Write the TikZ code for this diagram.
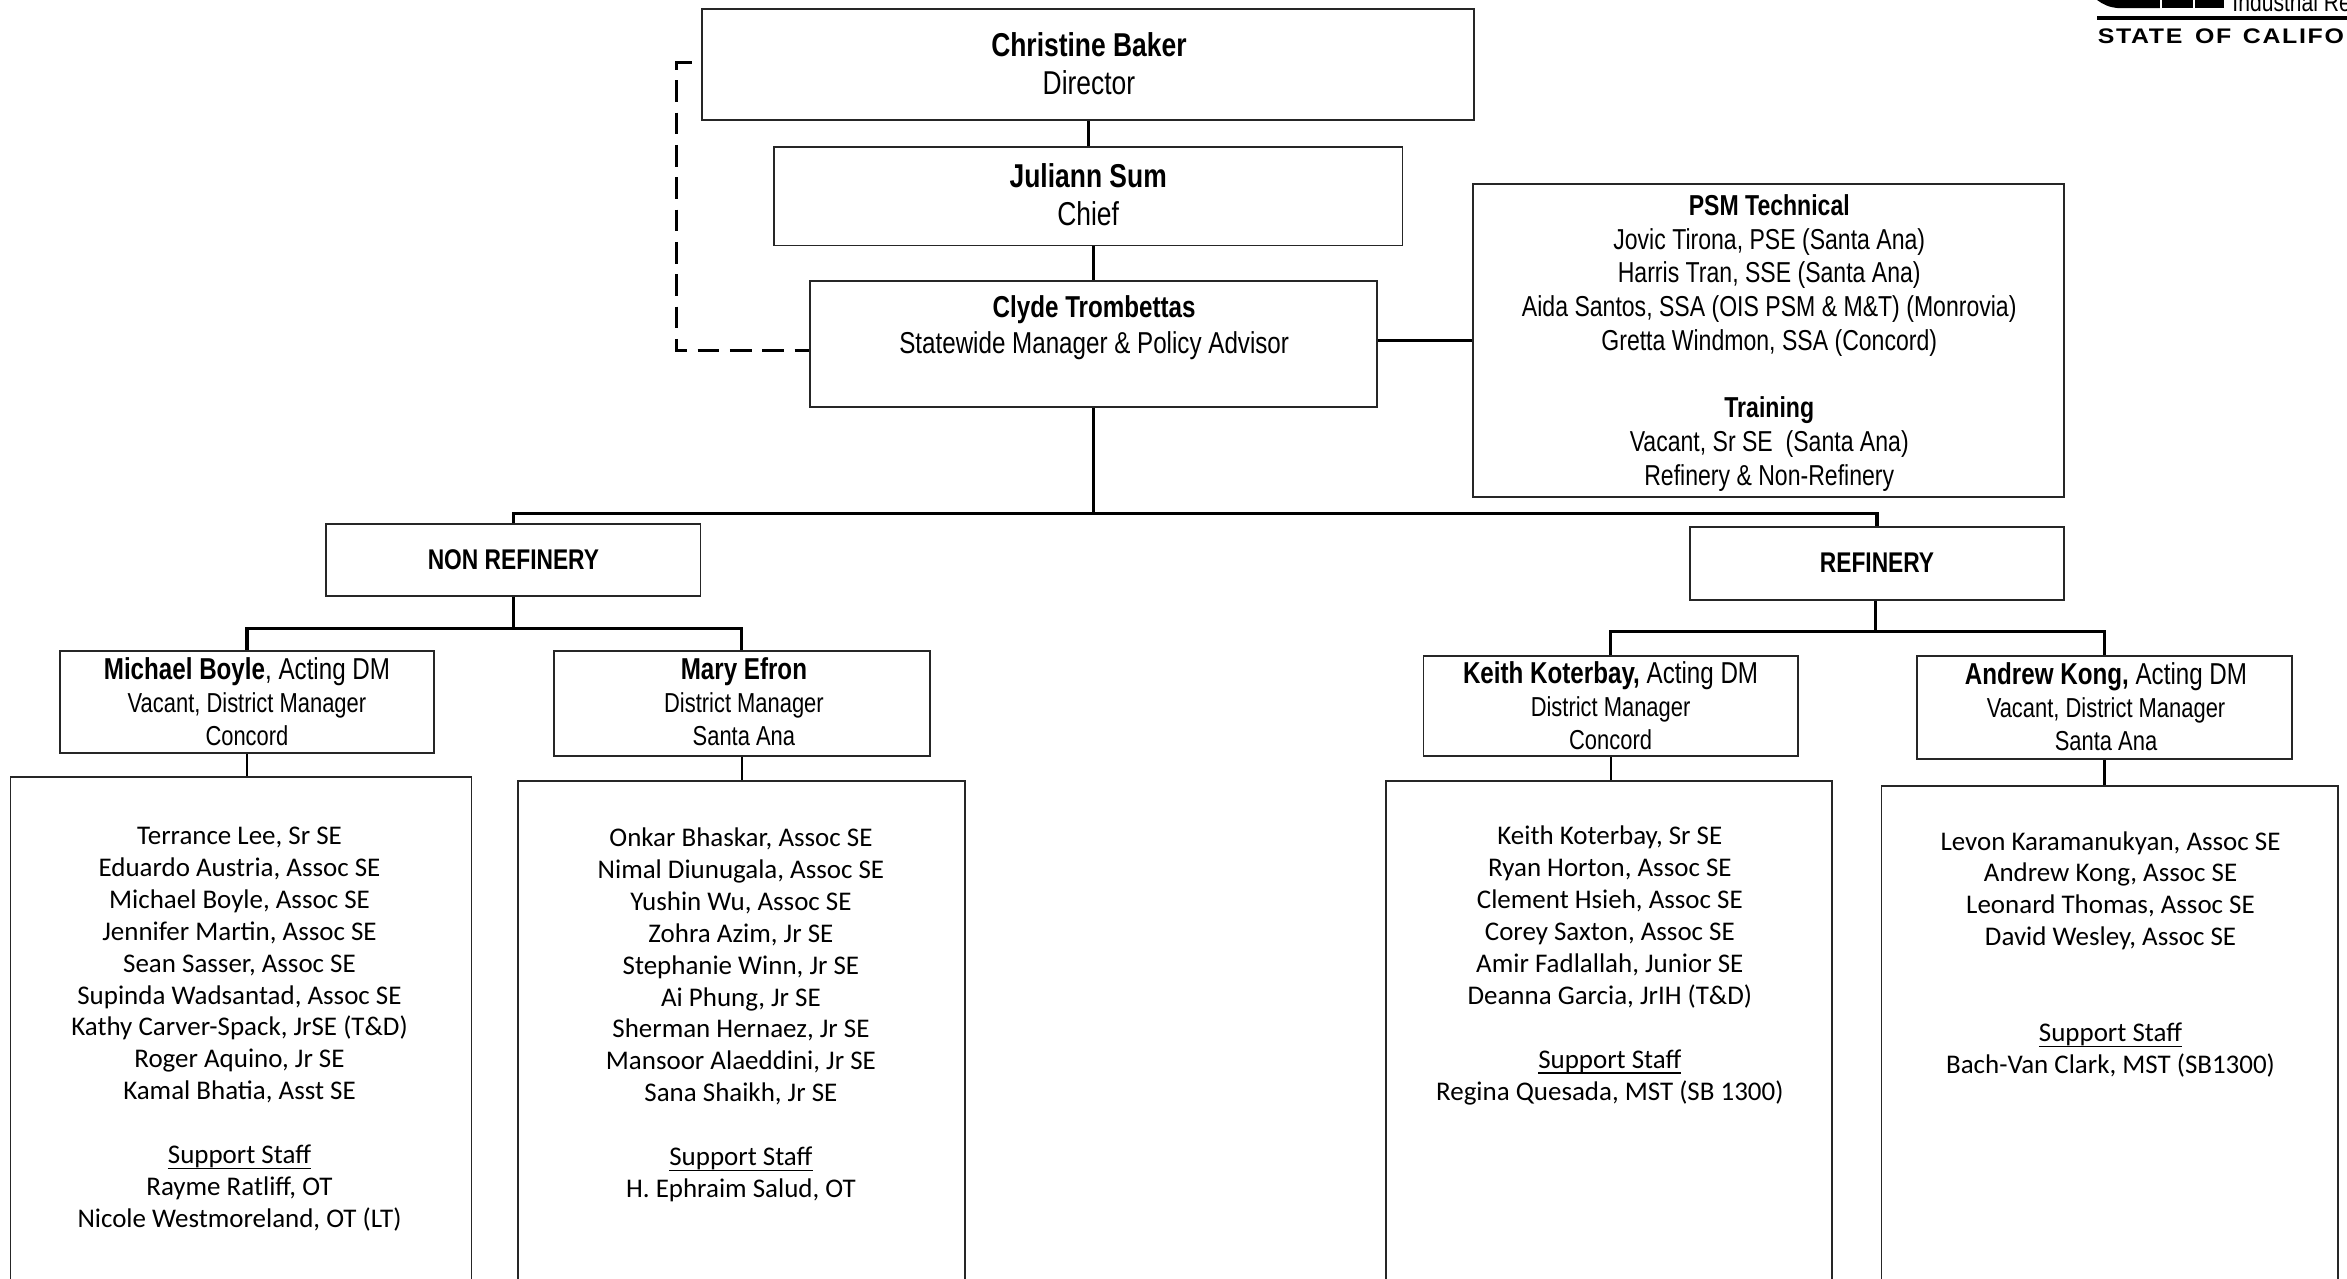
\documentclass[tikz,border=0pt]{standalone}
\usepackage{fontspec}
\setmainfont{Carlito}
\newfontfamily\nar[FakeStretch=0.8]{Liberation Sans}
\newfontfamily\wid[FakeStretch=1.18,LetterSpace=8]{Liberation Sans}
\newcommand\uu{0.014968cm}
\newcommand\ustaff{\underline{\smash{Support Staff}}}
\tikzset{
  wh/.style 2 args={minimum width=#1*\uu,minimum height=#2*\uu},
  box/.style={draw=black!85,line width=0.55pt,inner sep=0pt,fill=none},
  lnk/.style={draw=black,line width=0.75pt},
  thick lnk/.style={draw=black,line width=1pt},
  thin lnk/.style={draw=black,line width=0.6pt},
  dash lnk/.style={draw=black,line width=0.8pt,dash pattern=on 6.2pt off 3pt},
  top text/.style={align=center,inner sep=0pt,font=\nar\fontsize{9.4}{10.6}\selectfont},
  mid text/.style={align=center,inner sep=0pt,font=\nar\fontsize{8.6}{10.2}\selectfont},
  dm text/.style={align=center,inner sep=0pt,font=\nar\fontsize{7.8}{9.4}\selectfont},
  staff text/.style={align=center,inner sep=0pt,font=\fontsize{7.67}{9.08}\selectfont},
  logo text/.style={inner sep=0pt,anchor=west},
}
\begin{document}
\begin{tikzpicture}[x=\uu,y=-\uu]
\useasboundingbox (0,0) rectangle (1568,854.4);
\clip (0,0) rectangle (1568,854.4);
% boxes
\node[box,wh={516}{74}] (baker) at (727,43) {};
\node[box,wh={420}{66}] (sum) at (727,131) {};
\node[box,wh={379}{84}] (clyde) at (730.5,230) {};
\node[box,wh={395}{209}] (psm) at (1181.5,227.5) {};
\node[box,wh={250}{48}] (nonref) at (343,374) {};
\node[box,wh={250}{49}] (ref) at (1254,376.5) {};
\node[box,wh={250}{68}] (boyle) at (165,469) {};
\node[box,wh={251}{70}] (efron) at (495.5,470) {};
\node[box,wh={250}{67}] (koter) at (1076,471.5) {};
\node[box,wh={250}{69}] (kong) at (1406,472.5) {};
\node[box,wh={308}{381}] (s1) at (161,709.5) {};
\node[box,wh={299}{378}] (s2) at (495.5,711) {};
\node[box,wh={298}{378}] (s3) at (1075,711) {};
\node[box,wh={305}{375}] (s4) at (1409.5,712.5) {};
% texts
\node[top text] (bakert) at (727.5,42.5) {\textbf{Christine Baker}\\Director};
\node[top text] (sumt) at (727,130) {\textbf{Juliann Sum}\\Chief};
\node[mid text] (clydet) at (731,219) {\textbf{Clyde Trombettas}\\Statewide Manager \& Policy Advisor};
\node[mid text,font=\nar\fontsize{8.2}{9.6}\selectfont] (psmt) at (1182,229) {\textbf{PSM Technical}\\Jovic Tirona, PSE (Santa Ana)\\Harris Tran, SSE (Santa Ana)\\Aida Santos, SSA (OIS PSM \& M\&T) (Monrovia)\\Gretta Windmon, SSA (Concord)\\[9.6pt]\textbf{Training}\\Vacant, Sr SE\ \ (Santa Ana)\\Refinery \& Non-Refinery};
\node[dm text,font=\nar\bfseries\fontsize{8.1}{9.6}\selectfont] (nonreft) at (343,374) {NON REFINERY};
\node[dm text,font=\nar\bfseries\fontsize{8.1}{9.6}\selectfont] (reft) at (1254,376) {REFINERY};
\node[dm text] (boylet) at (165,469) {{\fontsize{8.6}{9.4}\selectfont\textbf{Michael Boyle}, Acting DM}\\Vacant, District Manager\\Concord};
\node[dm text] (efront) at (497,469) {{\fontsize{8.6}{9.4}\selectfont\textbf{Mary Efron}}\\District Manager\\Santa Ana};
\node[dm text] (kotert) at (1076,471.5) {{\fontsize{8.6}{9.4}\selectfont\textbf{Keith Koterbay,} Acting DM}\\District Manager\\Concord};
\node[dm text] (kongt) at (1407,472) {{\fontsize{8.6}{9.4}\selectfont\textbf{Andrew Kong,} Acting DM}\\Vacant, District Manager\\Santa Ana};
\node[staff text] (s1t) at (160,687.5) {Terrance Lee, Sr SE\\Eduardo Austria, Assoc SE\\Michael Boyle, Assoc SE\\Jennifer Martin, Assoc SE\\Sean Sasser, Assoc SE\\Supinda Wadsantad, Assoc SE\\Kathy Carver-Spack, JrSE (T\&D)\\Roger Aquino, Jr SE\\Kamal Bhatia, Asst SE\\[9.08pt]\ustaff\\Rayme Ratliff, OT\\Nicole Westmoreland, OT (LT)};
\node[staff text] (s2t) at (495,678) {Onkar Bhaskar, Assoc SE\\Nimal Diunugala, Assoc SE\\Yushin Wu, Assoc SE\\Zohra Azim, Jr SE\\Stephanie Winn, Jr SE\\Ai Phung, Jr SE\\Sherman Hernaez, Jr SE\\Mansoor Alaeddini, Jr SE\\Sana Shaikh, Jr SE\\[9.08pt]\ustaff\\H. Ephraim Salud, OT};
\node[staff text] (s3t) at (1075.5,645) {Keith Koterbay, Sr SE\\Ryan Horton, Assoc SE\\Clement Hsieh, Assoc SE\\Corey Saxton, Assoc SE\\Amir Fadlallah, Junior SE\\Deanna Garcia, JrIH (T\&D)\\[9.08pt]\ustaff\\Regina Quesada, MST (SB 1300)};
\node[staff text] (s4t) at (1410,637.5) {Levon Karamanukyan, Assoc SE\\Andrew Kong, Assoc SE\\Leonard Thomas, Assoc SE\\David Wesley, Assoc SE\\[18.16pt]\ustaff\\Bach-Van Clark, MST (SB1300)};
% connectors
\coordinate (bus) at (730.5,343);
\coordinate (nbus) at (343,420);
\coordinate (rbus) at (1253,422);
\coordinate (da) at (452,234);
\coordinate (db) at (462,42);
\draw[lnk] (baker.south) -- (sum.north);
\draw[lnk] (sum.south -| clyde.south) -- (clyde.north);
\draw[thick lnk] (clyde.east |- psm.west) -- (psm.west);
\draw[thick lnk] (clyde.south) -- (bus);
\draw[thick lnk] (nonref.north) |- (bus) -| (ref.north);
\draw[thick lnk] (nonref.south) -- (nbus);
\draw[thick lnk] (boyle.north) |- (nbus) -| (efron.north);
\draw[thick lnk] (ref.south -| rbus) -- (rbus);
\draw[thick lnk] (koter.north) |- (rbus) -| (kong.north);
\draw[thin lnk] (boyle.south) -- (boyle.south |- s1.north);
\draw[thin lnk] (efron.south) -- (efron.south |- s2.north);
\draw[thin lnk] (koter.south) -- (koter.south |- s3.north);
\draw[thin lnk] (kong.south) -- (kong.south |- s4.north);
\draw[dash lnk] (db) -| (da) -- (clyde.west |- da);
% logo
\fill[black] (1401,0) .. controls (1405,3) and (1409,5) .. (1416,5.5) -- (1443,5.5) -- (1443,0) -- cycle;
\fill[black] (1444.5,0) -- (1465,0) -- (1465,5.5) -- (1444.5,5.5) -- cycle;
\fill[black] (1466.5,0) -- (1486,0) -- (1486,5.5) -- (1466.5,5.5) -- cycle;
\draw[black,line width=1.1pt] (1401,12) -- (1568,12);
\node[logo text,font=\nar\fontsize{7.5}{8}\selectfont] (indus) at (1491,1.5) {Industrial Re};
\node[logo text,font=\wid\bfseries\fontsize{6}{8}\selectfont] (state) at (1401,24) {STATE\hspace{1.2pt} OF\hspace{0.8pt} CALIFO};
\end{tikzpicture}
\end{document}
